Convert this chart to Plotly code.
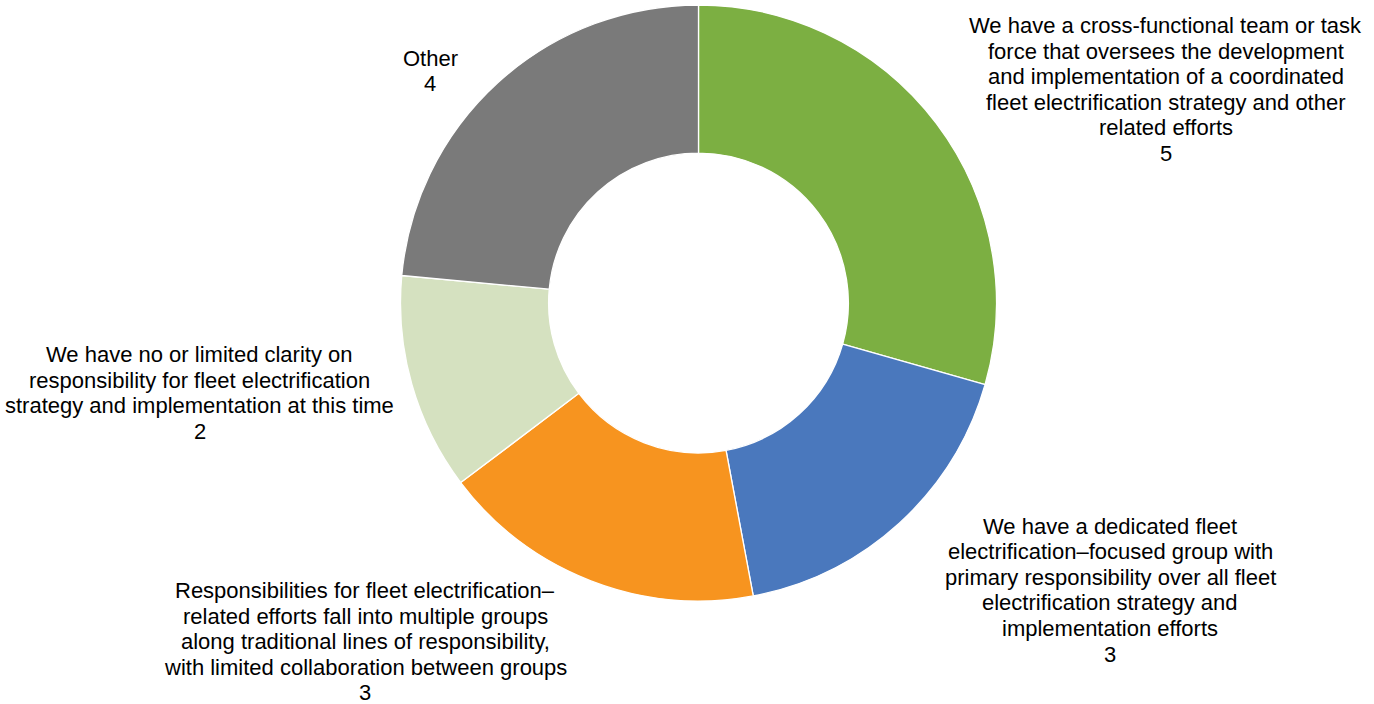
import plotly.graph_objects as go

categories = [
    "We have a cross-functional team or task<br>force that oversees the development<br>and implementation of a coordinated<br>fleet electrification strategy and other<br>related efforts",
    "We have a dedicated fleet<br>electrification–focused group with<br>primary responsibility over all fleet<br>electrification strategy and<br>implementation efforts",
    "Responsibilities for fleet electrification–<br>related efforts fall into multiple groups<br>along traditional lines of responsibility,<br>with limited collaboration between groups",
    "We have no or limited clarity on<br>responsibility for fleet electrification<br>strategy and implementation at this time",
    "Other",
]
values = [5, 3, 3, 2, 4]
colors = ["#7CAF42", "#4A78BD", "#F7941F", "#D5E1C0", "#7A7A7A"]

W, H = 1374, 704
cx, cy, r = 698.5, 303, 298

fig = go.Figure(go.Pie(
    labels=categories,
    values=values,
    marker=dict(colors=colors, line=dict(color="#FFFFFF", width=1.3)),
    hole=0.503,
    sort=False,
    direction="clockwise",
    rotation=0,
    textinfo="none",
    hoverinfo="label+value",
    showlegend=False,
    domain=dict(x=[(cx - r) / W, (cx + r) / W],
                y=[(H - cy - r) / H, (H - cy + r) / H]),
))

# label block: centre x and first-line centre y (pixels), line spacing
label_pos = [(1165.5, 25.5), (1110, 526), (365, 590.5), (199.5, 354.5), (430, 58)]
line_gap = 25.6
for cat, val, (px, py) in zip(categories, values, label_pos):
    lines = cat.split("<br>") + [str(val)]
    for i, ln in enumerate(lines):
        fig.add_annotation(
            x=px / W, y=1 - (py + i * line_gap) / H, xref="paper", yref="paper",
            text=ln, showarrow=False, align="center",
            xanchor="center", yanchor="middle",
            font=dict(family="Liberation Sans, Arial, sans-serif", size=22, color="#000000"),
        )

fig.update_layout(
    width=W, height=H,
    margin=dict(l=0, r=0, t=0, b=0),
    paper_bgcolor="#FFFFFF", plot_bgcolor="#FFFFFF",
)

fig.write_html("out.html")
